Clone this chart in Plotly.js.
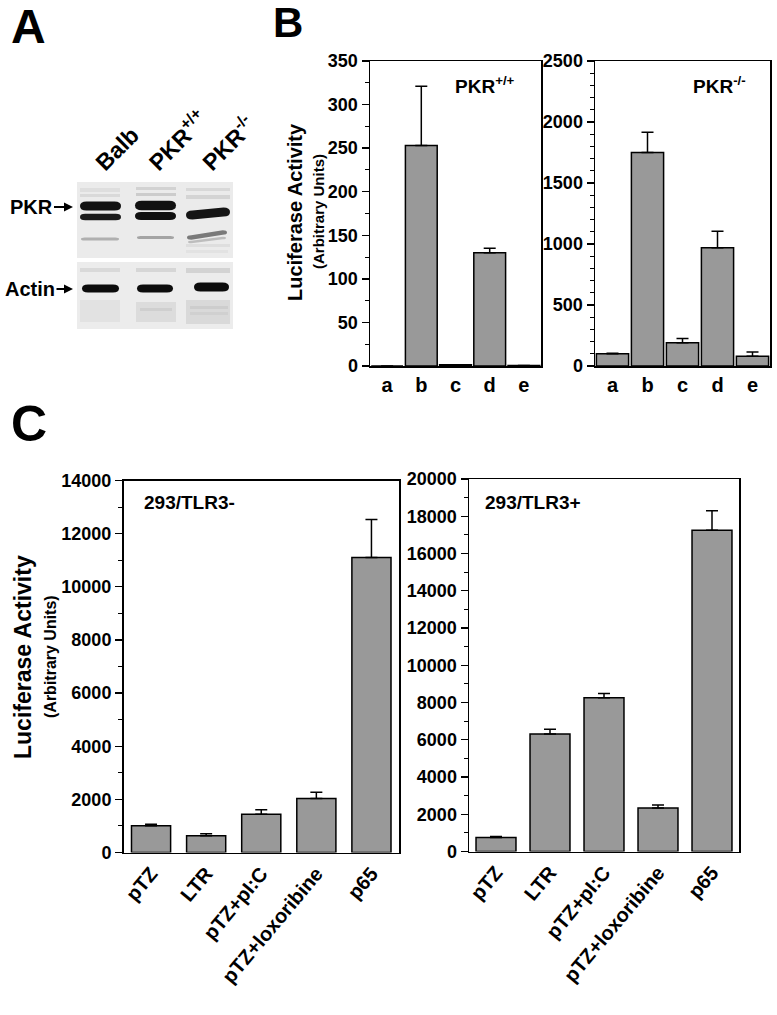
<!DOCTYPE html>
<html>
<head>
<meta charset="utf-8">
<script src="https://cdn.plot.ly/plotly-3.0.1.min.js"></script>
<style>html,body{margin:0;padding:0;background:#fff;}</style>
</head>
<body>
<div id="chart" style="width:777px;height:1015px;"></div>
<script>
// ---------------- DATA ----------------
const bCategories = ['a', 'b', 'c', 'd', 'e'];
const bWildTypeValues = [0, 253, 1.5, 130, 0.7];
const bWildTypeErrors = [0, 68, 0, 5, 0];
const bKnockoutValues = [100, 1750, 190, 970, 80];
const bKnockoutErrors = [5, 165, 35, 135, 35];

const cCategories = ['pTZ', 'LTR', 'pTZ+pI:C', 'pTZ+loxoribine', 'p65'];
const cTlr3NegValues = [1010, 630, 1440, 2030, 11100];
const cTlr3NegErrors = [50, 80, 170, 240, 1430];
const cTlr3PosValues = [750, 6310, 8260, 2330, 17250];
const cTlr3PosErrors = [50, 250, 220, 160, 1050];

const blotLanes = ['Balb', 'PKR<sup>+/+</sup>', 'PKR<sup>-/-</sup>'];

// ---------------- HELPERS ----------------
const W = 777, H = 1015;
const px = x => x / W;
const py = y => 1 - y / H;
const FONT = 'Liberation Sans, Arial, Helvetica, sans-serif';
const zeros = a => a.map(() => 0);

function barTrace(cats, vals, errs, xa, ya, width) {
  return {
    type: 'bar', x: cats, y: vals, xaxis: xa, yaxis: ya, width: width,
    marker: {color: '#999999', line: {color: '#000', width: 1.5}},
    error_y: {type: 'data', symmetric: false, array: errs, arrayminus: zeros(errs),
              color: '#000', thickness: 1.5, width: 6},
    hoverinfo: 'none'
  };
}

function yAxis(dom, range, dtick, minor, fs, anchor) {
  return {
    domain: dom, range: range, dtick: dtick, anchor: anchor,
    tickformat: 'd', exponentformat: 'none', separatethousands: false,
    showline: true, linecolor: '#000', linewidth: 1.5, mirror: true,
    ticks: 'outside', ticklen: 7, tickwidth: 1.3, tickcolor: '#000',
    minor: {dtick: minor, ticks: 'outside', ticklen: 4, tickwidth: 1, tickcolor: '#000'},
    showgrid: false, zeroline: false, fixedrange: true,
    tickfont: {family: FONT, size: fs, color: '#000', weight: 'bold'}
  };
}
function xAxis(dom, fs, angle, anchor) {
  return {
    domain: dom, anchor: anchor, type: 'category',
    showline: true, linecolor: '#000', linewidth: 1.5, mirror: true,
    ticks: '', showgrid: false, zeroline: false, fixedrange: true,
    tickangle: angle,
    tickfont: {family: FONT, size: fs, color: '#000', weight: 'bold'}
  };
}

const traces = [
  barTrace(bCategories, bWildTypeValues, bWildTypeErrors, 'x', 'y', 0.93),
  barTrace(bCategories, bKnockoutValues, bKnockoutErrors, 'x2', 'y2', 0.92),
  barTrace(cCategories, cTlr3NegValues, cTlr3NegErrors, 'x3', 'y3', 0.71),
  barTrace(cCategories, cTlr3PosValues, cTlr3PosErrors, 'x4', 'y4', 0.74),
  // empty helper traces so the blot helper axes exist
  {type: 'scatter', x: [], y: [], xaxis: 'x5', yaxis: 'y5', hoverinfo: 'none'},
  {type: 'scatter', x: [], y: [], xaxis: 'x6', yaxis: 'y5', hoverinfo: 'none'}
];

// ---------------- BLOT (panel A) drawn on a pixel-unit helper axis ----------------
function capsule(x0, x1, yc, h, color, tilt) {
  tilt = tilt || 0;
  const r = Math.min(h / 2 + 2, (x1 - x0) / 2);
  const yl = yc + tilt / 2, yr = yc - tilt / 2;
  const p = `M${x0 + r},${yl - h / 2} L${x1 - r},${yr - h / 2} Q${x1},${yr - h / 2} ${x1},${yr} ` +
            `Q${x1},${yr + h / 2} ${x1 - r},${yr + h / 2} L${x0 + r},${yl + h / 2} ` +
            `Q${x0},${yl + h / 2} ${x0},${yl} Q${x0},${yl - h / 2} ${x0 + r},${yl - h / 2} Z`;
  return {type: 'path', xref: 'x5', yref: 'y5', path: p, fillcolor: color, line: {width: 0}, layer: 'above'};
}
function rect(x0, y0, x1, y1, color) {
  return {type: 'rect', xref: 'x5', yref: 'y5', x0, y0, x1, y1, fillcolor: color, line: {width: 0}, layer: 'above'};
}
const shapes = [
  rect(77, 182, 233, 258, '#ebebeb'),
  rect(77, 262, 233, 329, '#ececec'),
  // faint smudges
  rect(80, 188, 120, 192, '#dedede'), rect(80, 194, 120, 197, '#d9d9d9'),
  rect(136, 187, 176, 190, '#d2d2d2'), rect(136, 193, 176, 196, '#cccccc'),
  rect(186, 188, 230, 191, '#d8d8d8'), rect(186, 195, 230, 199, '#d4d4d4'),
  rect(186, 244, 230, 247, '#dedede'), rect(186, 250, 228, 253, '#e2e2e2'),
  rect(80, 268, 120, 272, '#d9d9d9'), rect(136, 268, 176, 272, '#d6d6d6'), rect(186, 268, 230, 273, '#d3d3d3'),
  rect(80, 300, 120, 322, '#e2e2e2'), rect(136, 302, 176, 322, '#dcdcdc'), rect(186, 300, 230, 324, '#d9d9d9'),
  rect(140, 308, 172, 311, '#cfcfcf'), rect(190, 306, 228, 309, '#cdcdcd'), rect(190, 312, 228, 315, '#d0d0d0'),
  // PKR bands
  capsule(80, 121, 206, 9, '#121212'),
  capsule(80, 121, 217, 6.5, '#1c1c1c'),
  capsule(81, 119, 239, 3, '#b0b0b0'),
  capsule(135, 176, 205.5, 9.5, '#111111'),
  capsule(135, 176, 216, 8, '#101010'),
  capsule(137, 174, 237.5, 3, '#a4a4a4'),
  capsule(186, 230, 213.5, 9, '#151515', 3),
  capsule(187, 227, 235, 4.5, '#7a7a7a', 5),
  capsule(188, 226, 240, 2.5, '#bdbdbd', 4),
  // Actin bands
  capsule(82, 119, 288.5, 8, '#0c0c0c'),
  capsule(137, 173, 288.5, 8, '#0c0c0c'),
  capsule(194, 229, 287, 9, '#0c0c0c')
];

// ---------------- ANNOTATIONS ----------------
function txt(text, x, y, size, opts) {
  return Object.assign({
    text: text, xref: 'paper', yref: 'paper', x: px(x), y: py(y),
    xanchor: 'center', yanchor: 'middle', showarrow: false,
    font: {family: FONT, size: size, color: '#000', weight: 'bold'}
  }, opts || {});
}
const annotations = [
  txt('A', 28.5, 26, 48),
  txt('B', 287.5, 23, 42),
  txt('C', 28.5, 424, 50),
  // panel A labels
  txt('PKR', 73, 207, 20, {showarrow: true, ax: -42, ay: 0, arrowhead: 2, arrowsize: 0.9, arrowwidth: 2, arrowcolor: '#000', standoff: 0}),
  txt('Actin', 73, 289, 20, {showarrow: true, ax: -43, ay: 0, arrowhead: 2, arrowsize: 0.9, arrowwidth: 2, arrowcolor: '#000', standoff: 0}),
  // panel B
  txt('Luciferase Activity', 295, 212, 20, {textangle: -90}),
  txt('(Arbitrary Units)', 318, 212, 15, {textangle: -90}),
  txt('PKR<sup>+/+</sup>', 453, 85, 19, {xanchor: 'left'}),
  txt('PKR<sup>-/-</sup>', 691, 85, 19, {xanchor: 'left'}),
  // panel C
  txt('Luciferase Activity', 23, 657, 23, {textangle: -90}),
  txt('(Arbitrary Units)', 50, 657, 16, {textangle: -90}),
  txt('293/TLR3-', 142, 502, 19, {xanchor: 'left'}),
  txt('293/TLR3+', 483, 502, 19, {xanchor: 'left'})
];

const layout = {
  width: W, height: H,
  margin: {l: 0, r: 0, t: 0, b: 0},
  paper_bgcolor: '#fff', plot_bgcolor: 'rgba(0,0,0,0)',
  showlegend: false,
  font: {family: FONT, color: '#000'},
  xaxis: xAxis([px(370), px(541)], 20, 0, 'y'),
  yaxis: yAxis([py(366), py(61)], [0, 350], 50, 25, 18, 'x'),
  xaxis2: xAxis([px(595), px(770)], 20, 0, 'y2'),
  yaxis2: yAxis([py(366), py(61)], [0, 2500], 500, 100, 18, 'x2'),
  xaxis3: xAxis([px(123.5), px(399)], 20, -50, 'y3'),
  yaxis3: yAxis([py(852.5), py(480.5)], [0, 14000], 2000, 1000, 18, 'x3'),
  xaxis4: xAxis([px(469), px(739)], 20, -50, 'y4'),
  yaxis4: yAxis([py(851.5), py(479)], [0, 20000], 2000, 1000, 18, 'x4'),
  xaxis5: {domain: [px(77), px(233)], range: [77, 233], visible: false, anchor: 'y5', fixedrange: true},
  yaxis5: {domain: [py(329), py(182)], range: [329, 182], visible: false, anchor: 'x5', fixedrange: true},
  xaxis6: {domain: [px(77), px(233)], range: [-0.374, 2.542], anchor: 'free', overlaying: 'x5',
           position: py(180), side: 'top', showline: false, showgrid: false, zeroline: false,
           ticks: '', tickmode: 'array', tickvals: [0, 1, 2], ticktext: blotLanes,
           tickangle: -45, fixedrange: true,
           tickfont: {family: FONT, size: 23, color: '#000', weight: 'bold'}},
  shapes: shapes,
  annotations: annotations
};

Plotly.newPlot('chart', traces, layout, {staticPlot: true, displayModeBar: false});
</script>
</body>
</html>
